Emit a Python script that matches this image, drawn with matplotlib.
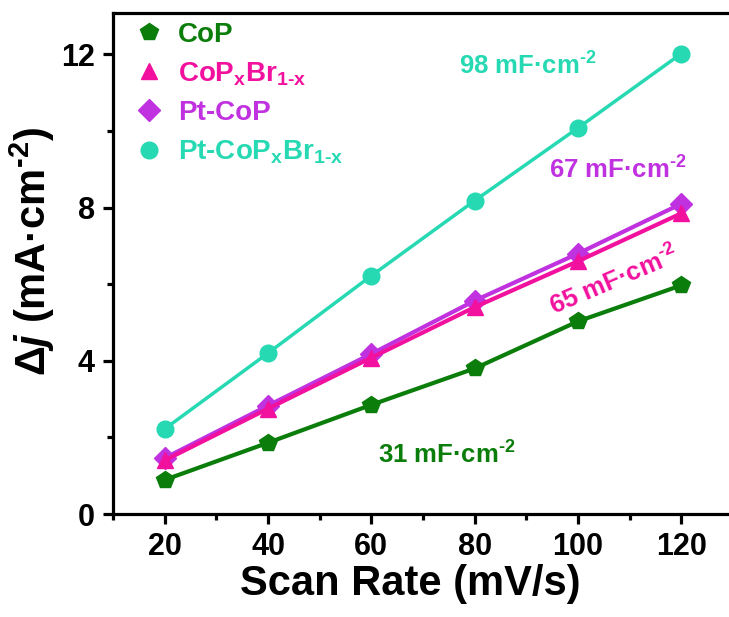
import matplotlib
matplotlib.use('Agg')
import matplotlib.pyplot as plt
from matplotlib.lines import Line2D
from matplotlib.ticker import MultipleLocator

plt.rcParams['font.family'] = ['Liberation Sans', 'DejaVu Sans']
plt.rcParams['font.weight'] = 'bold'
plt.rcParams['mathtext.fontset'] = 'custom'
plt.rcParams['mathtext.rm'] = 'Liberation Sans:bold'
plt.rcParams['mathtext.bf'] = 'Liberation Sans:bold'
plt.rcParams['mathtext.it'] = 'Liberation Sans:bold:italic'
plt.rcParams['mathtext.default'] = 'bf'

# data
scan_rate = [20, 40, 60, 80, 100, 120]
cop = [0.89, 1.86, 2.85, 3.80, 5.03, 5.97]
cop_br = [1.40, 2.75, 4.08, 5.40, 6.60, 7.85]
pt_cop = [1.46, 2.83, 4.18, 5.57, 6.80, 8.10]
pt_cop_br = [2.22, 4.20, 6.22, 8.18, 10.08, 12.02]

names = ['CoP', 'CoP$_\\mathbf{x}$Br$_\\mathbf{1‐x}$', 'Pt-CoP', 'Pt-CoP$_\\mathbf{x}$Br$_\\mathbf{1‐x}$']
cdl_labels = ['31', '65', '67', '98']

green = '#0b7d0b'
pink = '#f2119e'
purple = '#c031e0'
cyan = '#26d9b3'

fig = plt.figure(figsize=(7.29, 6.17), dpi=100)
ax = fig.add_axes([113/729, 103/617, 620/729, 501/617])

ax.plot(scan_rate, cop, color=green, lw=3, marker='p', ms=13, zorder=3)
ax.plot(scan_rate, pt_cop, color=purple, lw=3, marker='D', ms=11, zorder=3)
ax.plot(scan_rate, cop_br, color=pink, lw=3, marker='^', ms=12, zorder=4)
ax.plot(scan_rate, pt_cop_br, color=cyan, lw=2.5, marker='o', ms=12, zorder=3)

ax.set_xlim(10, 130)
ax.set_ylim(0, 13.08)
ax.xaxis.set_major_locator(MultipleLocator(20))
ax.xaxis.set_minor_locator(MultipleLocator(10))
ax.yaxis.set_major_locator(MultipleLocator(4))
ax.yaxis.set_minor_locator(MultipleLocator(2))
ax.set_xticks([20, 40, 60, 80, 100, 120])

for s in ax.spines.values():
    s.set_linewidth(2.3)
ax.spines['right'].set_visible(False)
ax.tick_params(which='major', direction='out', length=7, width=2.3, labelsize=22, pad=6)
ax.tick_params(which='minor', direction='out', length=4, width=2.3)
ax.tick_params(top=False, right=False)

ax.set_xlabel('Scan Rate (mV/s)', fontsize=30, fontweight='bold')
ax.xaxis.set_label_coords(0.479, -0.1)
ax.set_ylabel('$\\mathit{Δj}$ (mA·cm$^\\mathbf{‐2}$)', fontsize=30, fontweight='bold')
ax.yaxis.set_label_coords(-0.09, 0.525)

handles = [
    Line2D([], [], ls='none', marker='p', ms=13, color=green),
    Line2D([], [], ls='none', marker='^', ms=12, color=pink),
    Line2D([], [], ls='none', marker='D', ms=11, color=purple),
    Line2D([], [], ls='none', marker='o', ms=12, color=cyan),
]
leg = ax.legend(handles, names, loc='upper left', frameon=False, fontsize=20,
                handlelength=1.0, handletextpad=0.55, labelspacing=0.45,
                borderaxespad=0.0, bbox_to_anchor=(0.018, 1.005))
for t, c in zip(leg.get_texts(), [green, pink, purple, cyan]):
    t.set_color(c)

unit = ' mF·cm$^\\mathbf{‐2}$'
fig.text(447/729, 1 - 455/617, cdl_labels[0] + unit, color=green, fontsize=18.5,
         ha='center', va='center', fontweight='bold')
fig.text(614/729, 1 - 281/617, cdl_labels[1] + unit, color=pink, fontsize=18.5,
         ha='center', va='center', fontweight='bold', rotation=23,
         rotation_mode='anchor')
fig.text(618/729, 1 - 170/617, cdl_labels[2] + unit, color=purple, fontsize=18.5,
         ha='center', va='center', fontweight='bold')
fig.text(528/729, 1 - 66/617, cdl_labels[3] + unit, color=cyan, fontsize=18.5,
         ha='center', va='center', fontweight='bold')

fig.savefig('out.png', dpi=100)
